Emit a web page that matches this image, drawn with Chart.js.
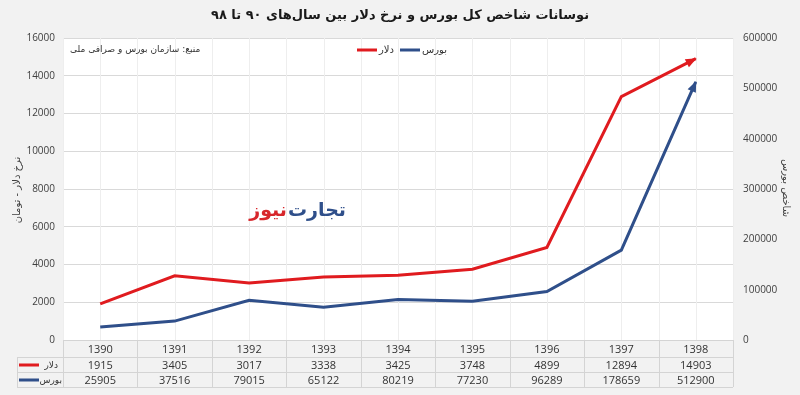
<!DOCTYPE html>
<html>
<head>
<meta charset="utf-8">
<script src="https://cdn.jsdelivr.net/npm/chart.js@4/dist/chart.umd.min.js"></script>
<style>
html,body{margin:0;padding:0;background:#f2f2f2;}
#wrap{width:800px;height:395px;}
</style>
</head>
<body>
<div id="wrap"><canvas id="c" width="800" height="395"></canvas></div>
<script>
const years = ['1390','1391','1392','1393','1394','1395','1396','1397','1398'];
const dollar = [1915, 3405, 3017, 3338, 3425, 3748, 4899, 12894, 14903];
const bourse = [25905, 37516, 79015, 65122, 80219, 77230, 96289, 178659, 512900];
const dollarLabel = 'دلار';
const bourseLabel = 'بورس';
const titleText = 'نوسانات شاخص کل بورس و نرخ دلار بین سال‌های ۹۰ تا ۹۸';
const sourceText = 'منبع: سازمان بورس و صرافی ملی';
const leftTitle = 'نرخ دلار - تومان';
const rightTitle = 'شاخص بورس';

const RED = '#e01b1f';
const BLUE = '#2f4f8a';
const FONT = "'Open Sans','DejaVu Sans',sans-serif";
const AR = "'DejaVu Sans',sans-serif";

const deco = {
  id: 'deco',
  beforeDraw(chart) {
    const {ctx, chartArea: a} = chart;
    ctx.save();
    ctx.fillStyle = '#f2f2f2';
    ctx.fillRect(0, 0, chart.width, chart.height);
    ctx.fillStyle = '#ffffff';
    ctx.fillRect(a.left, a.top, a.right - a.left, a.bottom - a.top);
    ctx.restore();
  },
  beforeDatasetsDraw(chart) {
    const {ctx, chartArea: a} = chart;
    const n = years.length;
    const w = (a.right - a.left) / n;
    ctx.save();
    ctx.strokeStyle = '#eeeeee';
    ctx.lineWidth = 1;
    for (let i = 0; i <= 2 * n; i++) {
      const x = Math.round(a.left + i * w / 2) + 0.5;
      ctx.beginPath();
      ctx.moveTo(x, a.top);
      ctx.lineTo(x, a.bottom);
      ctx.stroke();
    }
    ctx.restore();
  },
  afterDatasetsDraw(chart) {
    const {ctx} = chart;
    chart.data.datasets.forEach((ds, di) => {
      const pts = chart.getDatasetMeta(di).data;
      const p = pts[pts.length - 1], q = pts[pts.length - 2];
      const ang = Math.atan2(p.y - q.y, p.x - q.x);
      const L = 10, H = 4.5;
      ctx.save();
      ctx.translate(p.x, p.y);
      ctx.rotate(ang);
      ctx.fillStyle = ds.borderColor;
      ctx.beginPath();
      ctx.moveTo(1, 0);
      ctx.lineTo(-L, -H);
      ctx.lineTo(-L, H);
      ctx.closePath();
      ctx.fill();
      ctx.restore();
    });
  },
  afterDraw(chart) {
    const {ctx, chartArea: a} = chart;
    const xs = chart.scales.x;
    ctx.save();
    ctx.direction = 'rtl';
    // title
    ctx.fillStyle = '#1a1a1a';
    ctx.font = 'bold 13px ' + AR;
    ctx.textAlign = 'center';
    ctx.textBaseline = 'middle';
    ctx.fillText(titleText, 400, 16);
    // source
    ctx.fillStyle = '#333';
    ctx.font = '9px ' + AR;
    ctx.textAlign = 'left';
    ctx.fillText(sourceText, 70, 50);
    // legend
    ctx.lineWidth = 3;
    ctx.strokeStyle = RED;
    ctx.beginPath(); ctx.moveTo(357, 50); ctx.lineTo(377, 50); ctx.stroke();
    ctx.strokeStyle = BLUE;
    ctx.beginPath(); ctx.moveTo(400, 50); ctx.lineTo(420, 50); ctx.stroke();
    ctx.fillStyle = '#333';
    ctx.font = '10px ' + AR;
    ctx.fillText(dollarLabel, 379, 50);
    ctx.fillText(bourseLabel, 422, 50);
    // watermark
    ctx.font = 'bold 19px ' + AR;
    ctx.textAlign = 'right';
    ctx.fillStyle = BLUE;
    ctx.fillText('تجارت', 346, 211);
    const tw = ctx.measureText('تجارت').width;
    ctx.fillStyle = '#d7262b';
    ctx.fillText('نیوز', 346 - tw - 1, 211);
    // axis titles
    ctx.fillStyle = '#404040';
    ctx.font = '10px ' + AR;
    ctx.textAlign = 'center';
    ctx.save();
    ctx.translate(17, 190);
    ctx.rotate(-Math.PI / 2);
    ctx.fillText(leftTitle, 0, 0);
    ctx.restore();
    ctx.save();
    ctx.translate(786, 188);
    ctx.rotate(Math.PI / 2);
    ctx.fillText(rightTitle, 0, 0);
    ctx.restore();
    // table
    const n = years.length;
    const w = (a.right - a.left) / n;
    const r0 = a.bottom, r1 = 357, r2 = 372, r3 = 387, hl = 17;
    ctx.strokeStyle = '#d4d4d4';
    ctx.lineWidth = 1;
    const hline = (y, x0, x1) => { ctx.beginPath(); ctx.moveTo(x0, y + 0.5); ctx.lineTo(x1, y + 0.5); ctx.stroke(); };
    const vline = (x, y0, y1) => { ctx.beginPath(); ctx.moveTo(Math.round(x) + 0.5, y0); ctx.lineTo(Math.round(x) + 0.5, y1); ctx.stroke(); };
    hline(r0, a.left, a.right);
    hline(r1, hl, a.right);
    hline(r2, hl, a.right);
    hline(r3, hl, a.right);
    vline(hl, r1, r3);
    for (let i = 0; i <= n; i++) vline(a.left + i * w, r0, r3);
    ctx.direction = 'ltr';
    ctx.font = '11px ' + FONT;
    ctx.fillStyle = '#333';
    ctx.textAlign = 'center';
    for (let i = 0; i < n; i++) {
      const x = xs.getPixelForValue(i);
      ctx.fillText(years[i], x, (r0 + r1) / 2 + 1);
      ctx.fillText(String(dollar[i]), x, (r1 + r2) / 2 + 1);
      ctx.fillText(String(bourse[i]), x, (r2 + r3) / 2 + 1);
    }
    // row headers
    ctx.lineWidth = 3;
    ctx.strokeStyle = RED;
    ctx.beginPath(); ctx.moveTo(19, (r1 + r2) / 2 + 0.5); ctx.lineTo(39, (r1 + r2) / 2 + 0.5); ctx.stroke();
    ctx.strokeStyle = BLUE;
    ctx.beginPath(); ctx.moveTo(19, (r2 + r3) / 2 + 0.5); ctx.lineTo(39, (r2 + r3) / 2 + 0.5); ctx.stroke();
    ctx.direction = 'rtl';
    ctx.font = '9px ' + AR;
    ctx.textAlign = 'right';
    ctx.fillStyle = '#333';
    ctx.fillText(dollarLabel, 58, (r1 + r2) / 2 + 1);
    ctx.fillText(bourseLabel, 62, (r2 + r3) / 2 + 1);
    ctx.restore();
  }
};

const plain = v => String(v);

new Chart(document.getElementById('c'), {
  type: 'line',
  data: {
    labels: years,
    datasets: [
      {label: dollarLabel, data: dollar, yAxisID: 'y', borderColor: RED, backgroundColor: RED, borderWidth: 3, pointRadius: 0, tension: 0},
      {label: bourseLabel, data: bourse, yAxisID: 'y1', borderColor: BLUE, backgroundColor: BLUE, borderWidth: 3, pointRadius: 0, tension: 0}
    ]
  },
  options: {
    responsive: false,
    animation: false,
    layout: {padding: {top: 38, bottom: 55, left: 0, right: 0}},
    plugins: {legend: {display: false}, title: {display: false}, tooltip: {enabled: false}},
    scales: {
      x: {
        offset: true,
        grid: {display: false},
        border: {display: false},
        ticks: {display: false},
        afterFit(s) { s.height = 0; }
      },
      y: {
        position: 'left', min: 0, max: 16000,
        grid: {color: '#d9d9d9', drawTicks: false},
        border: {display: false},
        ticks: {stepSize: 2000, padding: 8, color: '#404040', font: {size: 10, family: FONT}, callback: plain},
        afterFit(s) { s.width = 63; }
      },
      y1: {
        position: 'right', min: 0, max: 600000,
        grid: {display: false, drawTicks: false},
        border: {display: false},
        ticks: {stepSize: 100000, padding: 10, color: '#404040', font: {size: 10, family: FONT}, callback: plain},
        afterFit(s) { s.width = 67; }
      }
    }
  },
  plugins: [deco]
});
</script>
</body>
</html>
